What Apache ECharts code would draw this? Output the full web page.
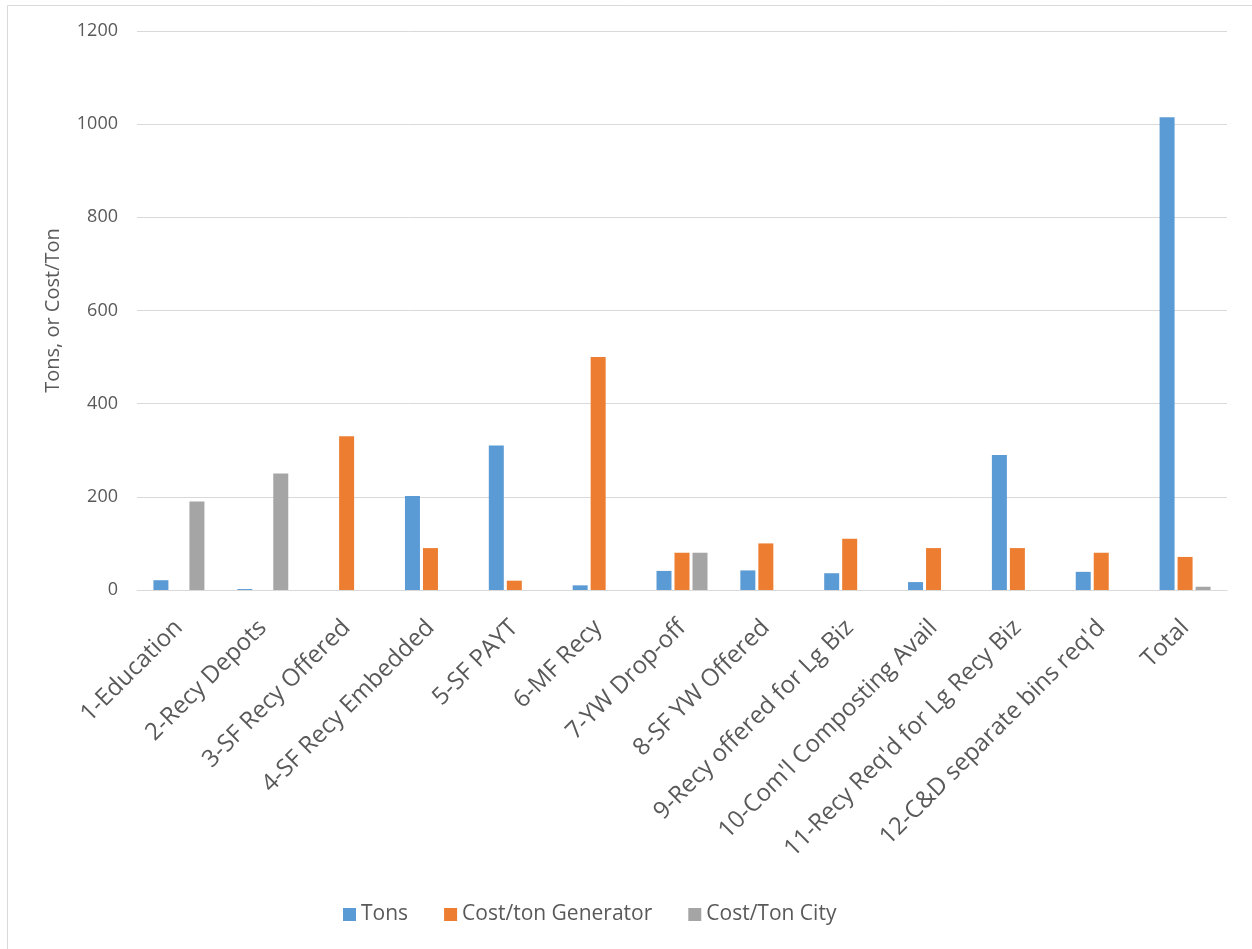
<!DOCTYPE html>
<html>
<head>
<meta charset="utf-8">
<script src="https://cdn.jsdelivr.net/npm/echarts@6/dist/echarts.min.js"></script>
<style>
	html, body { margin: 0; padding: 0; background: #fff; }
	#chart { width: 1252px; height: 949px; }
</style>
</head>
<body>
<div id="chart"></div>
<script>
	// categories along the x axis
	const categories = [
		'1-Education', '2-Recy Depots', '3-SF Recy Offered', '4-SF Recy Embedded',
		'5-SF PAYT', '6-MF Recy', '7-YW Drop-off', '8-SF YW Offered',
		'9-Recy offered for Lg Biz', "10-Com'l Composting Avail",
		"11-Recy Req'd for Lg Recy Biz", "12-C&D separate bins req'd", 'Total'
	];
	const tons = [21, 2, 0, 202, 310, 10, 41, 42, 36, 17, 290, 39, 1015];
	const costGenerator = [0, 0, 330, 90, 20, 500, 80, 100, 110, 90, 90, 80, 71];
	const costCity = [190, 250, 0, 0, 0, 0, 80, 0, 0, 0, 0, 0, 7];
	const yTicks = [0, 200, 400, 600, 800, 1000, 1200];

	const textColor = '#595959';
	const font = '"Open Sans", sans-serif';

	const chart = echarts.init(document.getElementById('chart'));

	const option = {
		animation: false,
		graphic: [{
			// outer chart-area frame (right/bottom edges fall outside the picture)
			type: 'rect',
			shape: { x: 7.5, y: 5.5, width: 1300, height: 1000 },
			style: { fill: 'none', stroke: '#d9d9d9', lineWidth: 1 },
			silent: true
		}],
		grid: {
			left: 137,
			right: 25,
			top: 31,
			bottom: 359,
		},
		legend: {
			bottom: 19,
			left: 338,
			icon: 'rect',
			itemWidth: 13,
			itemHeight: 13,
			itemGap: 36,
			textStyle: {
				fontFamily: font,
				fontSize: 21,
				color: textColor,
			},
		},
		xAxis: {
			type: 'category',
			data: categories,
			axisLine: {
				show: true,
				lineStyle: { color: '#d9d9d9', width: 1 },
			},
			axisTick: { show: false },
			axisLabel: {
				interval: 0,
				rotate: 45,
				margin: 34,
				fontFamily: font,
				fontSize: 24,
				color: textColor,
			},
		},
		yAxis: {
			type: 'value',
			min: 0,
			max: yTicks[yTicks.length - 1],
			interval: yTicks[1] - yTicks[0],
			name: 'Tons, or Cost/Ton',
			nameLocation: 'middle',
			nameGap: 74,
			nameTextStyle: {
				fontFamily: font,
				fontSize: 20,
				color: textColor,
			},
			axisLine: { show: false },
			axisTick: { show: false },
			splitLine: {
				show: true,
				lineStyle: { color: '#d9d9d9', width: 1 },
			},
			axisLabel: {
				margin: 19,
				fontFamily: font,
				fontSize: 18,
				color: textColor,
				formatter: (v) => String(v),
			},
		},
		series: [{
			name: 'Tons',
			type: 'bar',
			barWidth: 15,
			barGap: '20%',
			itemStyle: { color: '#5b9bd5' },
			data: tons,
		}, {
			name: 'Cost/ton Generator',
			type: 'bar',
			barWidth: 15,
			barGap: '20%',
			itemStyle: { color: '#ed7d31' },
			data: costGenerator,
		}, {
			name: 'Cost/Ton City',
			type: 'bar',
			barWidth: 15,
			barGap: '20%',
			itemStyle: { color: '#a5a5a5' },
			data: costCity,
		}],
	};
	chart.setOption(option);
</script>
</body>
</html>
